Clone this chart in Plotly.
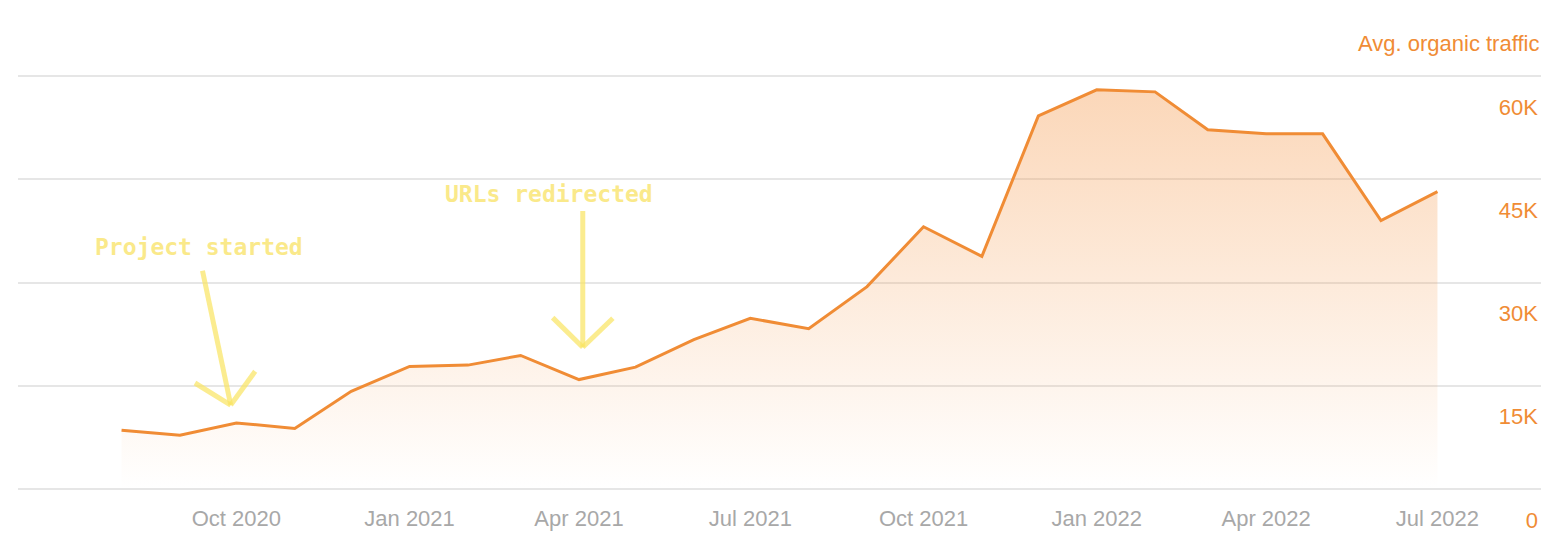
import plotly.graph_objects as go

months = [
    "2020-08-01", "2020-09-01", "2020-10-01", "2020-11-01", "2020-12-01",
    "2021-01-01", "2021-02-01", "2021-03-01", "2021-04-01", "2021-05-01",
    "2021-06-01", "2021-07-01", "2021-08-01", "2021-09-01", "2021-10-01",
    "2021-11-01", "2021-12-01", "2022-01-01", "2022-02-01", "2022-03-01",
    "2022-04-01", "2022-05-01", "2022-06-01", "2022-07-01",
]
traffic = [
    8550, 7800, 9600, 8800, 14200, 17800, 18000, 19400, 15900, 17700,
    21700, 24800, 23300, 29400, 38100, 33800, 54200, 58000, 57700, 52200,
    51600, 51600, 39000, 43200,
]
x_ticks = months[2::3]
y_ticks = [0, 15000, 30000, 45000, 60000]
y_labels = ["0", "15K", "30K", "45K", "60K"]

ORANGE = "#F08C35"
YELLOW = "rgba(249,228,100,0.72)"
YELLOW_TEXT = "#FAE98A"

fig = go.Figure()

fig.add_trace(go.Scatter(
    x=months,
    y=traffic,
    mode="lines",
    line=dict(color=ORANGE, width=3),
    fill="tozeroy",
    fillgradient=dict(
        type="vertical",
        colorscale=[[0, "rgba(245,150,70,0.0)"], [1, "rgba(245,150,70,0.38)"]],
    ),
    hoverinfo="skip",
))

# hand-drawn style arrows
arrows = [
    # Project started
    ("2020-09-13", 31700, "2020-09-28", 12200),
    ("2020-09-09", 15400, "2020-09-28", 12200),
    ("2020-10-11", 17100, "2020-09-28", 12200),
    # URLs redirected
    ("2021-04-03", 40400, "2021-04-03", 20600),
    ("2021-03-18", 24900, "2021-04-03", 20600),
    ("2021-04-19", 24800, "2021-04-03", 20600),
]
for x0, y0, x1, y1 in arrows:
    fig.add_shape(
        type="line", xref="x", yref="y",
        x0=x0, y0=y0, x1=x1, y1=y1,
        line=dict(color=YELLOW, width=5),
    )

note_font = dict(family="DejaVu Sans Mono", size=23, color=YELLOW_TEXT)
fig.add_annotation(x="2020-09-11", y=35100, text="<b>Project started</b>",
                   showarrow=False, font=note_font)
fig.add_annotation(x="2021-03-16", y=42900, text="<b>URLs redirected</b>",
                   showarrow=False, font=note_font)

fig.add_annotation(
    xref="paper", yref="paper", x=1, y=1.075,
    xanchor="right", yanchor="middle",
    text="Avg. organic traffic", showarrow=False,
    font=dict(family="Liberation Sans", size=22, color=ORANGE),
)

fig.update_layout(
    width=1566,
    height=556,
    showlegend=False,
    plot_bgcolor="white",
    paper_bgcolor="white",
    margin=dict(l=10, r=33, t=67, b=75),
    xaxis=dict(
        type="date",
        range=["2020-06-07", "2022-08-25"],
        tickvals=x_ticks,
        tickformat="%b %Y",
        showgrid=False,
        zeroline=False,
        showline=False,
        ticks="",
        automargin=False,
        ticklabelstandoff=14,
        tickfont=dict(family="Liberation Sans", size=22, color="#A8A8A8"),
    ),
    yaxis=dict(
        side="right",
        range=[0, 60150],
        tickvals=y_ticks,
        ticktext=y_labels,
        ticklabelposition="inside",
        ticklabelshift=31,
        ticklabeloverflow="allow",
        automargin=False,
        gridcolor="#E6E6E6",
        gridwidth=1.5,
        zeroline=True,
        zerolinecolor="#E6E6E6",
        zerolinewidth=1.5,
        showline=False,
        tickfont=dict(family="Liberation Sans", size=22, color=ORANGE),
    ),
)

fig.write_html("out.html")
